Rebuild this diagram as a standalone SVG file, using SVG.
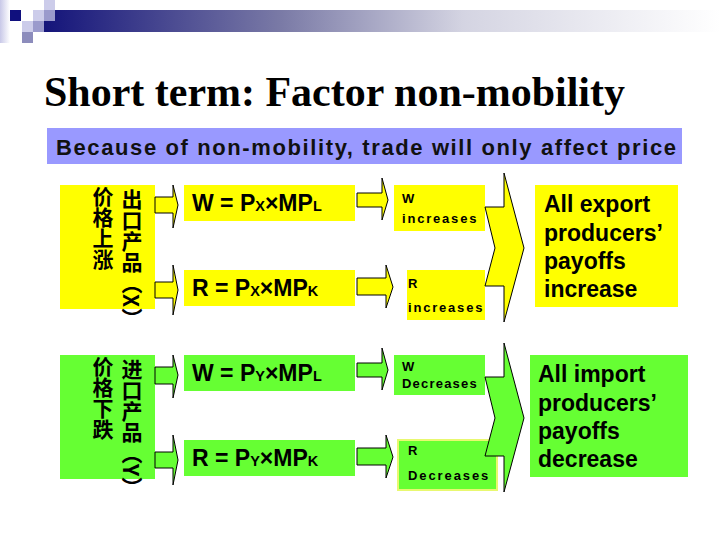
<svg xmlns="http://www.w3.org/2000/svg" width="720" height="540" viewBox="0 0 720 540">
<defs>
<linearGradient id="bar" x1="0" y1="0" x2="1" y2="0">
<stop offset="0" stop-color="#14147a"/>
<stop offset="0.35" stop-color="#7a7aa6"/>
<stop offset="0.62" stop-color="#d4d4e2"/>
<stop offset="1" stop-color="#ffffff"/>
</linearGradient>
<linearGradient id="side" x1="0" y1="0" x2="1" y2="0">
<stop offset="0" stop-color="#c8c8e8"/>
<stop offset="1" stop-color="#ffffff"/>
</linearGradient>
<style>
.y{fill:#ffff00}
.g{fill:#66ff33}
.arr{stroke:#000;stroke-width:1}
.cn{font-family:"Noto Sans CJK SC","Noto Sans CJK TC",sans-serif;font-size:21px;font-weight:700;fill:#000;writing-mode:vertical-rl}
.f{font-family:"Liberation Sans",Arial,sans-serif;font-weight:700;font-size:23px;fill:#000}
.sub{font-size:14.5px}
.s{font-family:"Liberation Sans",Arial,sans-serif;font-weight:700;font-size:13px;fill:#000}
.big{font-family:"Liberation Sans",Arial,sans-serif;font-weight:700;font-size:23px;fill:#000}
</style>
</defs>
<rect width="720" height="540" fill="#fff"/>
<g id="header">
<rect x="0" y="0" width="10" height="43" fill="url(#side)"/>
<rect x="44" y="10" width="676" height="22" fill="url(#bar)"/>
<rect x="10" y="10" width="11" height="11" fill="#10107e"/>
<rect x="33" y="10" width="11" height="11" fill="#ccccea"/>
<rect x="44" y="0" width="11" height="10" fill="#ccccea"/>
<rect x="44" y="10" width="11" height="11" fill="#9a9acc"/>
<rect x="22" y="21" width="11" height="11" fill="#ccccea"/>
<rect x="33" y="21" width="11" height="11" fill="#9a9acc"/>
<rect x="22" y="32" width="11" height="11" fill="#8c8cbc"/>
</g>
<g id="title">
<text x="44" y="106" font-family="Liberation Serif,'Times New Roman',serif" font-weight="700" font-size="42" fill="#000" textLength="581" lengthAdjust="spacingAndGlyphs">Short term: Factor non-mobility</text>
</g>
<g id="banner">
<rect x="47" y="128" width="635" height="36" fill="#9999ff"/>
<text x="56" y="155" font-family="Liberation Sans,Arial,sans-serif" font-weight="700" font-size="22" fill="#111" textLength="620" lengthAdjust="spacing">Because of non-mobility, trade will only affect price</text>
</g>

<g id="export-price">
<rect class="y" x="60" y="185" width="95" height="124"/>
<text class="cn" x="103" y="186">价格上涨</text>
<text class="cn" x="132" y="189">出口产品（X）</text>
</g>
<g id="export-w">
<rect class="y" x="184" y="185" width="171" height="36"/>
<text class="f" x="192" y="211">W = P<tspan class="sub">X</tspan>×MP<tspan class="sub">L</tspan></text>
</g>
<g id="export-r">
<rect class="y" x="184" y="270" width="171" height="36"/>
<text class="f" x="192" y="296">R = P<tspan class="sub">X</tspan>×MP<tspan class="sub">K</tspan></text>
</g>
<g id="export-w-inc">
<rect class="y" x="394" y="185" width="91" height="46"/>
<text class="s" x="402" y="203">W</text>
<text class="s" x="402" y="223" letter-spacing="1.8">increases</text>
</g>
<g id="export-r-inc">
<rect class="y" x="407" y="270" width="78" height="50"/>
<text class="s" x="408" y="288">R</text>
<text class="s" x="408" y="312" letter-spacing="1.8">increases</text>
</g>
<g id="export-result">
<rect class="y" x="535" y="185" width="143" height="122"/>
<text class="big" x="544" y="212">All export</text>
<text class="big" x="544" y="241">producers’</text>
<text class="big" x="544" y="269">payoffs</text>
<text class="big" x="544" y="297">increase</text>
</g>

<g id="import-price">
<rect class="g" x="60" y="355" width="95" height="124"/>
<text class="cn" x="103" y="356">价格下跌</text>
<text class="cn" x="132" y="359">进口产品（Y）</text>
</g>
<g id="import-w">
<rect class="g" x="184" y="355" width="171" height="36"/>
<text class="f" x="192" y="381">W = P<tspan class="sub">Y</tspan>×MP<tspan class="sub">L</tspan></text>
</g>
<g id="import-r">
<rect class="g" x="184" y="440" width="171" height="36"/>
<text class="f" x="192" y="466">R = P<tspan class="sub">Y</tspan>×MP<tspan class="sub">K</tspan></text>
</g>
<g id="import-w-dec">
<rect class="g" x="394" y="355" width="91" height="40"/>
<text class="s" x="402" y="371">W</text>
<text class="s" x="402" y="388" letter-spacing="1.2">Decreases</text>
</g>
<g id="import-r-dec">
<rect class="g" x="398" y="440" width="99" height="50" stroke="#e8f870" stroke-width="2"/>
<text class="s" x="408" y="455">R</text>
<text class="s" x="408" y="480" letter-spacing="1.9">Decreases</text>
</g>
<g id="import-result">
<rect class="g" x="530" y="355" width="158" height="122"/>
<text class="big" x="538" y="382">All import</text>
<text class="big" x="538" y="411">producers’</text>
<text class="big" x="538" y="439">payoffs</text>
<text class="big" x="538" y="467">decrease</text>
</g>

<g id="connectors">
<polygon class="y arr" points="155,197 173,197 173,185 178,205 173,228 173,213 155,213"/>
<polygon class="y arr" points="155,282 173,282 173,265 178,290 173,315 173,298 155,298"/>
<polygon class="y arr" points="357,193 382,193 382,178 388,200 382,220 382,207 357,207"/>
<polygon class="y arr" points="357,278 386,278 386,265 393,287 386,308 386,295 357,295"/>
<polygon class="y arr" points="485,207 504,207 504,173 524,248 504,322 504,286 485,286 495,248"/>
<polygon class="g arr" points="155,367 173,367 173,355 178,375 173,398 173,384 155,384"/>
<polygon class="g arr" points="155,452 173,452 173,435 178,460 173,485 173,468 155,468"/>
<polygon class="g arr" points="357,363 382,363 382,348 388,370 382,390 382,377 357,377"/>
<polygon class="g arr" points="357,448 386,448 386,435 393,457 386,478 386,465 357,465"/>
<polygon class="g arr" points="485,377 504,377 504,343 524,418 504,492 504,456 485,456 495,418"/>
</g>
</svg>
